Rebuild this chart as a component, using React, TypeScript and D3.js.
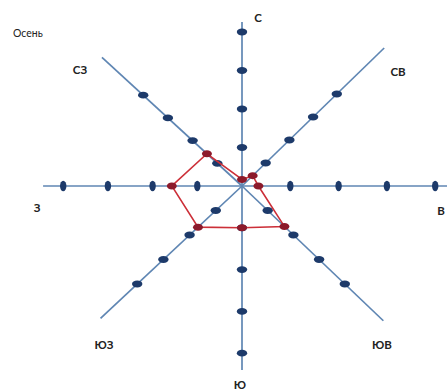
import React from "react";
import * as d3 from "d3";

// ---- data ----
const directions = ["С", "СВ", "В", "ЮВ", "Ю", "ЮЗ", "З", "СЗ"];
const values = [0.17, 0.45, 0.34, 1.65, 1.0, 1.68, 1.57, 1.42];
const tickValues = [1, 2, 3, 4];
const title = "Осень";

// ---- layout (pixels per tick unit along each axis, axis extent in units) ----
const axisVec: [number, number][] = [
  [0, -38.5],
  [23.7, -23],
  [48.3, 0],
  [25.7, 24.5],
  [0, 41.8],
  [-26.2, 24.5],
  [-44.7, 0],
  [-24.7, -22.7],
];
const axisExtent = [4.26, 6.0, 4.5, 5.5, 4.4, 5.4, 4.45, 5.67];
const labelPos: [number, number][] = [
  [258, 22],
  [398, 76],
  [441, 215],
  [382, 349],
  [240, 389],
  [104, 349],
  [37, 212],
  [80, 74],
];

const W = 447;
const H = 390;
const cx = 242;
const cy = 186;

export default function App() {
  const scales = axisVec.map(([vx, vy]) => ({
    x: d3.scaleLinear().domain([0, 1]).range([cx, cx + vx]),
    y: d3.scaleLinear().domain([0, 1]).range([cy, cy + vy]),
  }));

  const pts: [number, number][] = values.map((v, i) => [scales[i].x(v), scales[i].y(v)]);
  const line = d3.line().curve(d3.curveLinearClosed);
  const polyPath = line(pts) || "";

  return (
    <svg
      width={W}
      height={H}
      style={{ position: "fixed", left: 0, top: 0, background: "#fff" }}
    >
      <rect x={0} y={0} width={W} height={H} fill="#fff" />
      {/* axes */}
      {directions.map((d, i) => (
        <line
          key={"ax" + d}
          x1={cx}
          y1={cy}
          x2={scales[i].x(axisExtent[i])}
          y2={scales[i].y(axisExtent[i])}
          stroke="#5f86b3"
          strokeWidth={1.7}
        />
      ))}
      {/* tick markers */}
      {directions.map((d, i) =>
        tickValues.map((t) => {
          const horiz = axisVec[i][1] === 0;
          return (
            <ellipse
              key={"t" + d + t}
              cx={scales[i].x(t)}
              cy={scales[i].y(t)}
              rx={horiz ? 3.2 : 5.2}
              ry={horiz ? 5.2 : 3.4}
              fill="#1d3a6a"
            />
          );
        })
      )}
      {/* polygon */}
      <path d={polyPath} fill="none" stroke="#cc2f38" strokeWidth={1.6} />
      {pts.map(([x, y], i) => (
        <ellipse key={"p" + i} cx={x} cy={y} rx={5} ry={3.5} fill="#8c1a2b" />
      ))}
      {/* labels */}
      {directions.map((d, i) => (
        <text
          key={"l" + d}
          x={labelPos[i][0]}
          y={labelPos[i][1]}
          textAnchor="middle"
          fontFamily="Lato, 'Open Sans', sans-serif"
          fontWeight="bold"
          fontSize={11.5}
          fill="#222"
        >
          {d}
        </text>
      ))}
      <text
        x={13}
        y={37}
        fontFamily="Lato, 'Open Sans', sans-serif"
        fontSize={10.5}
        fill="#222"
      >
        {title}
      </text>
    </svg>
  );
}
